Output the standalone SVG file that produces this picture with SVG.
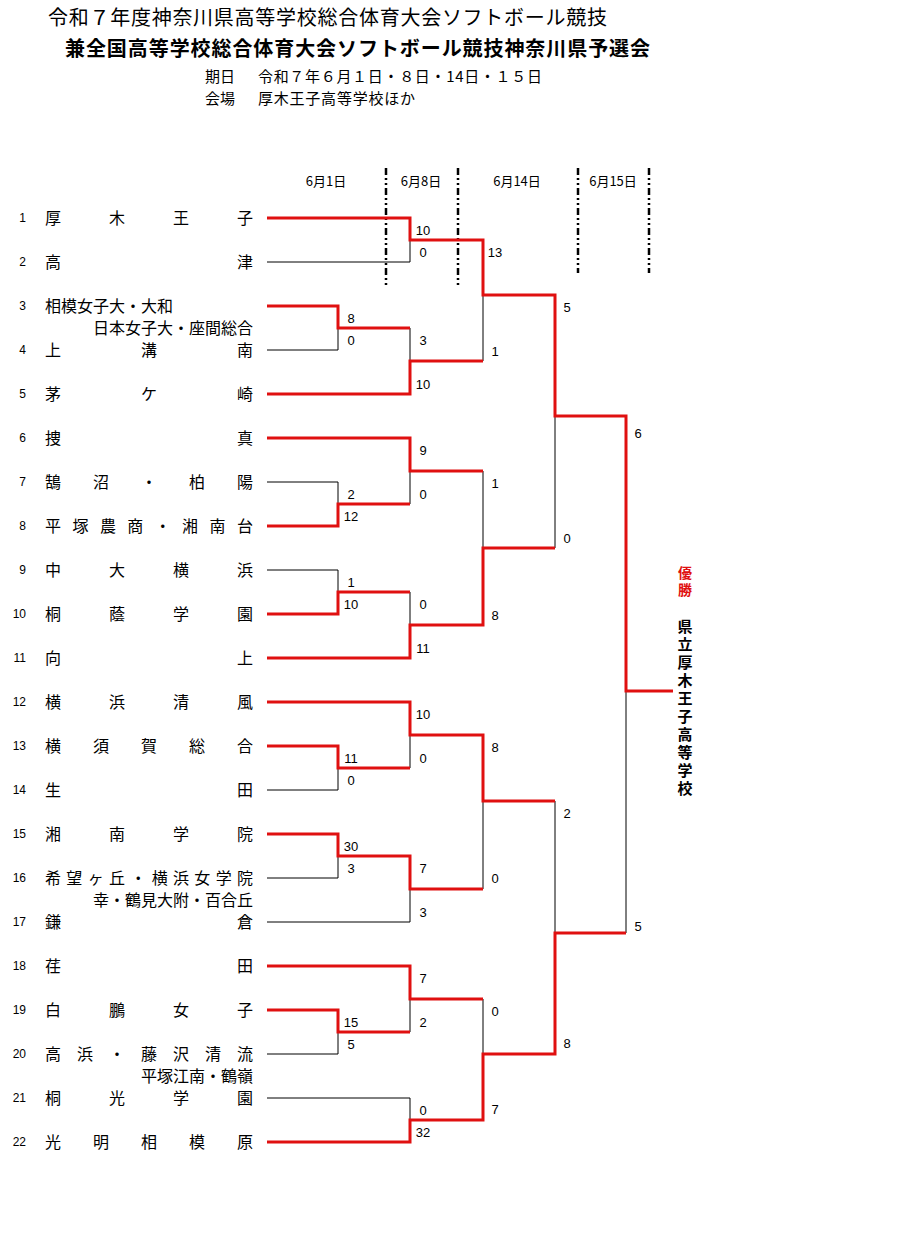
<svg xmlns="http://www.w3.org/2000/svg" width="900" height="1244" viewBox="0 0 900 1244">
<style>
text{font-family:"Noto Sans CJK JP","Noto Sans CJK SC",sans-serif;fill:#000}
.t1{font-size:20px}
.t2{font-size:20px;font-weight:bold}
.t3{font-size:15px}
.dt{font-size:13px;text-anchor:middle}
.nm{font-size:16px}
.nr{font-size:16px;text-anchor:end}
.no{font-family:"Liberation Sans",sans-serif;font-size:12px;text-anchor:end}
.sc{font-family:"Liberation Sans",sans-serif;font-size:13px;text-anchor:middle}
.bk{stroke:#000;stroke-width:1;fill:none}
.rd{stroke:#e01010;stroke-width:3;fill:none;stroke-linejoin:miter}
.dl{stroke:#000;stroke-width:2.5;fill:none;stroke-dasharray:7 3 2 3 2 3}
.win{font-weight:bold;writing-mode:vertical-rl;letter-spacing:3px}
</style>
<rect width="900" height="1244" fill="#fff"/>
<g id="header">
<text class="t1" x="48" y="25" textLength="559" lengthAdjust="spacing">令和７年度神奈川県高等学校総合体育大会ソフトボール競技</text>
<text class="t2" x="65" y="56" textLength="585" lengthAdjust="spacing">兼全国高等学校総合体育大会ソフトボール競技神奈川県予選会</text>
<text class="t3" x="205" y="82">期日</text>
<text class="t3" x="258" y="82" textLength="284" lengthAdjust="spacing">令和７年６月１日・８日・14日・１５日</text>
<text class="t3" x="205" y="104">会場</text>
<text class="t3" x="258" y="104" textLength="157" lengthAdjust="spacing">厚木王子高等学校ほか</text>
</g>
<g id="dates">
<text class="dt" x="326" y="186">6月1日</text>
<text class="dt" x="421" y="186">6月8日</text>
<text class="dt" x="517" y="186">6月14日</text>
<text class="dt" x="613" y="186">6月15日</text>
<path class="dl" d="M386,168V285M458,168V285M578,168V273M649,168V273"/>
</g>
<g id="team1"><text class="no" x="26" y="222">1</text><text class="nm" x="45 109 173 237" y="224">厚木王子</text></g>
<g id="team2"><text class="no" x="26" y="266">2</text><text class="nm" x="45 237" y="268">高津</text></g>
<g id="team3"><text class="no" x="26" y="310">3</text><text class="nm" x="45" y="312">相模女子大・大和</text><text class="nr" x="253" y="334">日本女子大・座間総合</text></g>
<g id="team4"><text class="no" x="26" y="354">4</text><text class="nm" x="45 141 237" y="356">上溝南</text></g>
<g id="team5"><text class="no" x="26" y="398">5</text><text class="nm" x="45 141 237" y="400">茅ケ崎</text></g>
<g id="team6"><text class="no" x="26" y="442">6</text><text class="nm" x="45 237" y="444">捜真</text></g>
<g id="team7"><text class="no" x="26" y="486">7</text><text class="nm" x="45 93 141 189 237" y="488">鵠沼・柏陽</text></g>
<g id="team8"><text class="no" x="26" y="530">8</text><text class="nm" x="45 72.4 99.9 127.3 154.7 182.1 209.6 237" y="532">平塚農商・湘南台</text></g>
<g id="team9"><text class="no" x="26" y="574">9</text><text class="nm" x="45 109 173 237" y="576">中大横浜</text></g>
<g id="team10"><text class="no" x="26" y="618">10</text><text class="nm" x="45 109 173 237" y="620">桐蔭学園</text></g>
<g id="team11"><text class="no" x="26" y="662">11</text><text class="nm" x="45 237" y="664">向上</text></g>
<g id="team12"><text class="no" x="26" y="706">12</text><text class="nm" x="45 109 173 237" y="708">横浜清風</text></g>
<g id="team13"><text class="no" x="26" y="750">13</text><text class="nm" x="45 93 141 189 237" y="752">横須賀総合</text></g>
<g id="team14"><text class="no" x="26" y="794">14</text><text class="nm" x="45 237" y="796">生田</text></g>
<g id="team15"><text class="no" x="26" y="838">15</text><text class="nm" x="45 109 173 237" y="840">湘南学院</text></g>
<g id="team16"><text class="no" x="26" y="882">16</text><text class="nm" x="45 66.3 87.7 109 130.3 151.7 173 194.3 215.7 237" y="884">希望ヶ丘・横浜女学院</text><text class="nr" x="253" y="906">幸・鶴見大附・百合丘</text></g>
<g id="team17"><text class="no" x="26" y="926">17</text><text class="nm" x="45 237" y="928">鎌倉</text></g>
<g id="team18"><text class="no" x="26" y="970">18</text><text class="nm" x="45 237" y="972">荏田</text></g>
<g id="team19"><text class="no" x="26" y="1014">19</text><text class="nm" x="45 109 173 237" y="1016">白鵬女子</text></g>
<g id="team20"><text class="no" x="26" y="1058">20</text><text class="nm" x="45 77 109 141 173 205 237" y="1060">高浜・藤沢清流</text><text class="nr" x="253" y="1082">平塚江南・鶴嶺</text></g>
<g id="team21"><text class="no" x="26" y="1102">21</text><text class="nm" x="45 109 173 237" y="1104">桐光学園</text></g>
<g id="team22"><text class="no" x="26" y="1146">22</text><text class="nm" x="45 93 141 189 237" y="1148">光明相模原</text></g>
<g id="connectors">
<path class="bk" d="M267,262H410V240 M267,350H338V328 M267,482H338V504 M267,570H338V592 M267,790H338V768 M267,878H338V856 M267,922H410V889 M267,1054H338V1032 M267,1098H410V1120"/>
<path class="bk" d="M410,328V361 M410,504V471 M410,592V625 M410,768V735 M410,1032V999"/>
<path class="bk" d="M483,361V295 M483,471V548 M483,889V801 M483,999V1054"/>
<path class="bk" d="M555,548V416 M555,801V933 M626,933V691"/>
<path class="rd" d="M267,218H410V240H483V295H555V416H626V691H673"/>
<path class="rd" d="M267,306H338V328H410"/>
<path class="rd" d="M267,394H410V361H483"/>
<path class="rd" d="M267,438H410V471H483"/>
<path class="rd" d="M267,526H338V504H410"/>
<path class="rd" d="M267,614H338V592H410"/>
<path class="rd" d="M267,658H410V625H483V548H555"/>
<path class="rd" d="M267,702H410V735H483V801H555"/>
<path class="rd" d="M267,746H338V768H410"/>
<path class="rd" d="M267,834H338V856H410V889H483"/>
<path class="rd" d="M267,966H410V999H483"/>
<path class="rd" d="M267,1010H338V1032H410"/>
<path class="rd" d="M267,1142H410V1120H483V1054H555V933H626"/>
</g>
<g id="scores">
<text class="sc" x="351" y="323">8</text><text class="sc" x="351" y="345">0</text>
<text class="sc" x="351" y="499">2</text><text class="sc" x="351" y="521">12</text>
<text class="sc" x="351" y="587">1</text><text class="sc" x="351" y="609">10</text>
<text class="sc" x="351" y="763">11</text><text class="sc" x="351" y="785">0</text>
<text class="sc" x="351" y="851">30</text><text class="sc" x="351" y="873">3</text>
<text class="sc" x="351" y="1027">15</text><text class="sc" x="351" y="1049">5</text>
<text class="sc" x="423" y="235">10</text><text class="sc" x="423" y="257">0</text>
<text class="sc" x="423" y="345">3</text><text class="sc" x="423" y="389">10</text>
<text class="sc" x="423" y="455">9</text><text class="sc" x="423" y="499">0</text>
<text class="sc" x="423" y="609">0</text><text class="sc" x="423" y="653">11</text>
<text class="sc" x="423" y="719">10</text><text class="sc" x="423" y="763">0</text>
<text class="sc" x="423" y="873">7</text><text class="sc" x="423" y="917">3</text>
<text class="sc" x="423" y="983">7</text><text class="sc" x="423" y="1027">2</text>
<text class="sc" x="423" y="1115">0</text><text class="sc" x="423" y="1137">32</text>
<text class="sc" x="495" y="257">13</text><text class="sc" x="495" y="356">1</text>
<text class="sc" x="495" y="488">1</text><text class="sc" x="495" y="620">8</text>
<text class="sc" x="495" y="752">8</text><text class="sc" x="495" y="883">0</text>
<text class="sc" x="495" y="1016">0</text><text class="sc" x="495" y="1114">7</text>
<text class="sc" x="567" y="312">5</text><text class="sc" x="567" y="543">0</text>
<text class="sc" x="567" y="818">2</text><text class="sc" x="567" y="1048">8</text>
<text class="sc" x="638" y="438">6</text><text class="sc" x="638" y="931">5</text>
</g>
<g id="champion">
<text class="win" x="685" y="566" style="fill:#e01010;font-size:14px">優勝</text>
<text class="win" x="685" y="619" style="font-size:15px">県立厚木王子高等学校</text>
</g>
</svg>
